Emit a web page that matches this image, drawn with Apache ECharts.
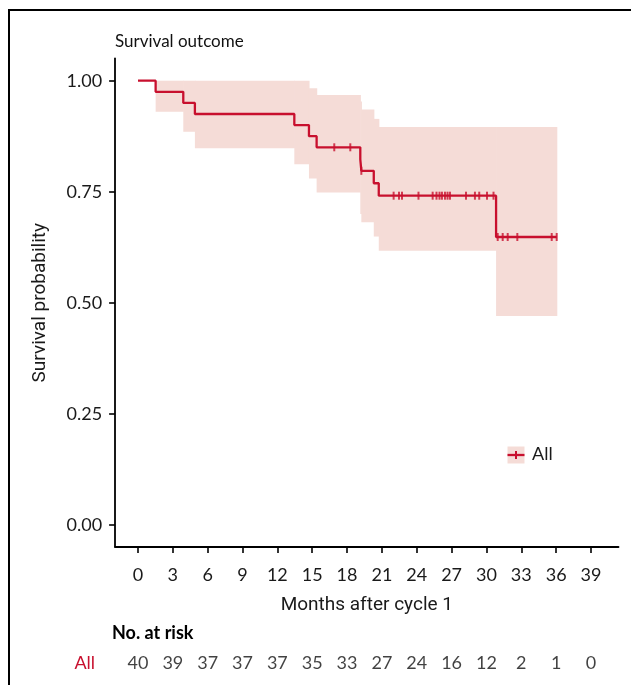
<!DOCTYPE html>
<html><head><meta charset="utf-8">
<script src="https://cdn.jsdelivr.net/npm/echarts@6/dist/echarts.min.js"></script>
<style>html,body{margin:0;padding:0;background:#fff}#c{width:631px;height:685px}</style>
</head><body><div id="c"></div>
<script>
// Kaplan-Meier step curve
const stepTimes = [0, 1.52, 3.9, 4.9, 13.46, 14.72, 15.38, 19.14, 19.23, 20.3, 20.73, 30.83, 36.05];
const survival  = [1, 0.975, 0.95, 0.925, 0.9, 0.875, 0.85, 0.823, 0.797, 0.769, 0.741, 0.648, 0.648];
// Confidence band intervals
const bandStart = [1.52, 3.9, 4.9, 13.46, 14.72, 15.38, 19.14, 19.23, 20.3, 20.73, 30.83];
const bandEnd   = [3.9, 4.9, 13.46, 14.72, 15.38, 19.14, 19.23, 20.3, 20.73, 30.83, 36.05];
const bandUpper = [1, 1, 1, 1, 0.983, 0.968, 0.953, 0.935, 0.914, 0.896, 0.896];
const bandLower = [0.93, 0.885, 0.848, 0.812, 0.78, 0.748, 0.70, 0.681, 0.649, 0.617, 0.47];
// Censoring times
const censorTimes = [16.9, 18.28, 19.23, 22.01, 22.47, 22.73, 24.15, 25.37, 25.7, 25.96, 26.17, 26.43, 26.65, 26.86, 28.24, 29.01, 29.38, 30.05, 30.61, 30.97, 31.4, 31.83, 32.66, 35.62, 36.05];
// Axes
const xTicks = [0, 3, 6, 9, 12, 15, 18, 21, 24, 27, 30, 33, 36, 39];
const yTicks = [0, 0.25, 0.5, 0.75, 1];
// Risk table
const riskTimes  = [0, 3, 6, 9, 12, 15, 18, 21, 24, 27, 30, 33, 36, 39];
const riskCounts = [40, 39, 37, 37, 37, 35, 33, 27, 24, 16, 12, 2, 1, 0];

const RED = '#C8102E';
const BAND = '#F5DCD7';
const FONT = 'Lato';
const TITLEFONT = 'Roboto';
const XMIN = -1.97, XMAX = 41.37;

function survAt(t) {
  let s = survival[0];
  for (let i = 0; i < stepTimes.length; i++) if (stepTimes[i] <= t) s = survival[i];
  return s;
}

const chart = echarts.init(document.getElementById('c'), null, {renderer: 'canvas'});
chart.setOption({
  animation: false,
  backgroundColor: '#fff',
  title: {text: 'Survival outcome', left: 110, top: 28,
    textStyle: {fontFamily: FONT, fontSize: 17, fontWeight: 'normal', color: '#111'}},
  grid: [
    {left: 115.1, right: 12.5, top: 58.5, bottom: 138.1, containLabel: false},
    {left: 115.1, right: 12.5, top: 650, height: 26, containLabel: false}
  ],
  xAxis: [{
    type: 'value', gridIndex: 0, min: XMIN, max: XMAX,
    axisLine: {show: true, onZero: false, lineStyle: {color: '#000', width: 1.8}},
    axisTick: {show: true, customValues: xTicks, length: 6, lineStyle: {color: '#000', width: 1.6}},
    axisLabel: {customValues: xTicks, fontFamily: FONT, fontSize: 18, color: '#1a1a1a', margin: 19},
    splitLine: {show: false},
    name: 'Months after cycle 1', nameLocation: 'middle', nameGap: 49,
    nameTextStyle: {fontFamily: TITLEFONT, fontSize: 19, color: '#1a1a1a'}
  }, {
    type: 'value', gridIndex: 1, min: XMIN, max: XMAX, show: false
  }],
  yAxis: [{
    type: 'value', gridIndex: 0, min: -0.05, max: 1.05,
    axisLine: {show: true, onZero: false, lineStyle: {color: '#000', width: 1.8}},
    axisTick: {show: true, customValues: yTicks, length: 6, lineStyle: {color: '#000', width: 1.6}},
    axisLabel: {customValues: yTicks, fontFamily: FONT, fontSize: 18, color: '#1a1a1a', margin: 13,
      formatter: v => v.toFixed(2)},
    splitLine: {show: false},
    name: 'Survival probability', nameLocation: 'middle', nameGap: 65, nameRotate: 90,
    nameTextStyle: {fontFamily: TITLEFONT, fontSize: 19, color: '#1a1a1a'}
  }, {
    type: 'category', gridIndex: 1, data: ['All'],
    axisLine: {show: false}, axisTick: {show: false},
    axisLabel: {fontFamily: FONT, fontSize: 18, color: RED, margin: 20}
  }],
  series: [
    {
      type: 'custom', xAxisIndex: 0, yAxisIndex: 0, silent: true,
      data: bandStart.map((s, i) => [s, bandEnd[i], bandLower[i], bandUpper[i]]),
      encode: {x: [0, 1], y: [2, 3]},
      renderItem: (params, api) => {
        const a = api.coord([api.value(0), api.value(3)]);
        const b = api.coord([api.value(1), api.value(2)]);
        return {type: 'rect', shape: {x: a[0], y: a[1], width: b[0] - a[0] + 0.6, height: b[1] - a[1]},
          style: {fill: BAND}};
      },
      z: 1
    },
    {
      type: 'line', xAxisIndex: 0, yAxisIndex: 0, step: 'end', showSymbol: false, silent: true,
      data: stepTimes.map((t, i) => [t, survival[i]]),
      lineStyle: {color: RED, width: 2.3}, z: 3
    },
    {
      type: 'scatter', xAxisIndex: 0, yAxisIndex: 0, silent: true,
      data: censorTimes.map(t => [t, survAt(t)]),
      symbol: 'rect', symbolSize: [2, 8], itemStyle: {color: RED}, z: 4
    },
    {
      type: 'scatter', xAxisIndex: 1, yAxisIndex: 1, silent: true,
      data: riskTimes.map((t, i) => [t, 'All', riskCounts[i]]),
      symbolSize: 0,
      label: {show: true, position: 'inside', formatter: p => String(p.value[2]),
        fontFamily: FONT, fontSize: 18, color: '#111'}
    }
  ],
  graphic: [
    {type: 'line', shape: {x1: 8, y1: 10, x2: 631, y2: 10}, style: {stroke: '#000', lineWidth: 2}},
    {type: 'line', shape: {x1: 9, y1: 10, x2: 9, y2: 685}, style: {stroke: '#000', lineWidth: 2}},
    {type: 'text', left: 112, top: 624, style: {text: 'No. at risk', fontFamily: FONT, fontSize: 18, fontWeight: 'bold', fill: '#000'}},
    {type: 'rect', shape: {x: 507.5, y: 446.5, width: 17, height: 17}, style: {fill: BAND}},
    {type: 'line', shape: {x1: 507.5, y1: 455, x2: 524.5, y2: 455}, style: {stroke: RED, lineWidth: 2.3}},
    {type: 'line', shape: {x1: 516, y1: 451, x2: 516, y2: 459}, style: {stroke: RED, lineWidth: 2}},
    {type: 'text', left: 532, top: 445, style: {text: 'All', fontFamily: FONT, fontSize: 18, fill: '#1a1a1a'}}
  ]
});
</script></body></html>
